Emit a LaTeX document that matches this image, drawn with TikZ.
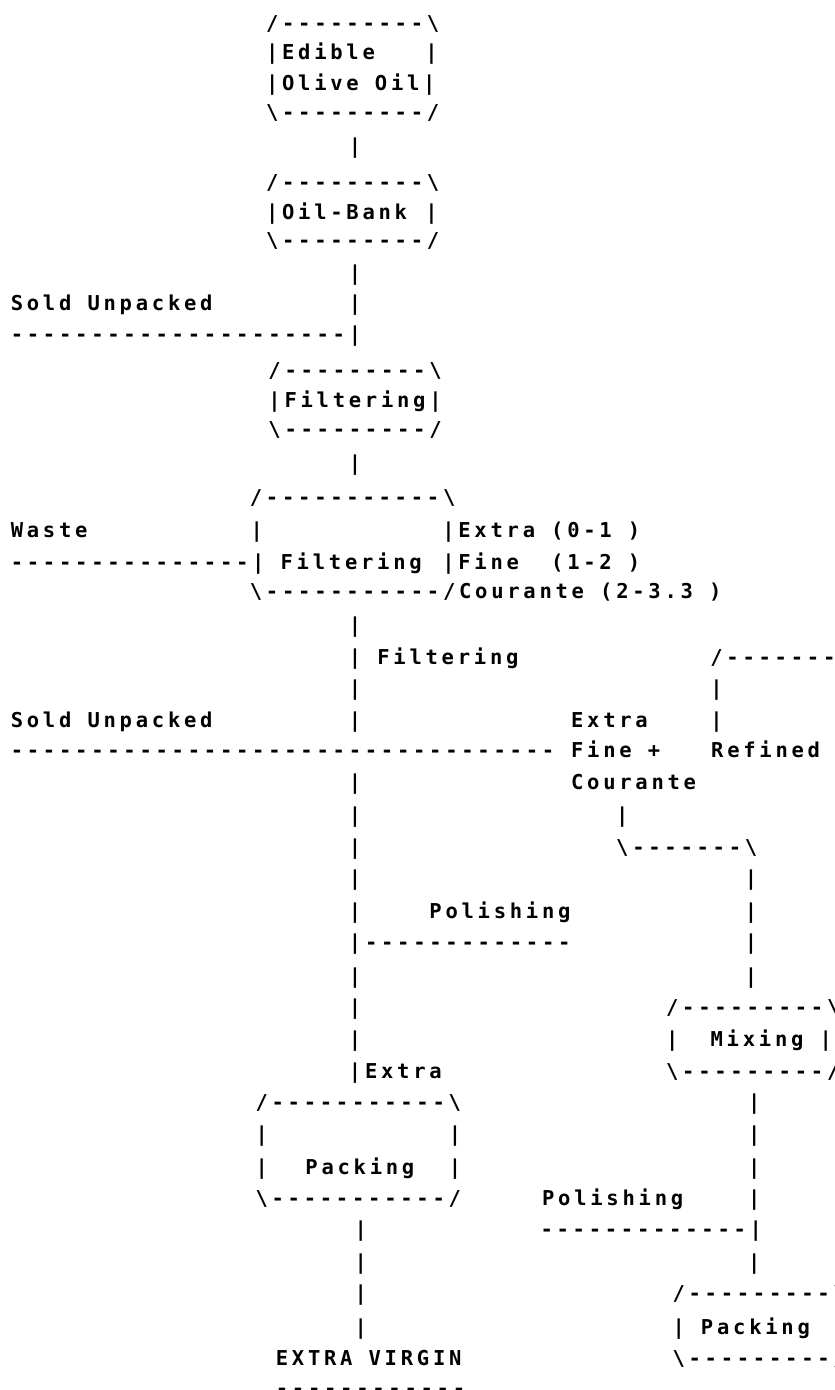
\documentclass[tikz,border=0pt]{standalone}
\usepackage{fontspec}
\setmonofont{DejaVu Sans Mono}[LetterSpace=18.3]

% backslash glyph for the box corners
\newcommand\bsl{\char92\relax}
% bold mono, one space = one character cell
\newcommand\asciistyle{\ttfamily\bfseries\fontsize{20.5}{20.5}\selectfont
  \spaceskip=16.1pt\relax\xspaceskip=16.1pt\relax}

\tikzset{
  ascii/.style={anchor=base west, inner sep=0pt, outer sep=0pt, yshift=-7pt,
    font={\asciistyle}},
}

\begin{document}
\begin{tikzpicture}[x=16.1pt,y=-1pt]
  \useasboundingbox[fill=white] (-0.6727,0) rectangle (51.19,1390);
  \clip (-0.6727,0) rectangle (51.19,1390);

  % edible olive oil and oil bank
  \node[ascii] (edible-t)  at (15.85,23)  {/---------\bsl};
  \node[ascii] (edible-a)  at (15.85,52)  {|Edible};
  \node[ascii] (edible-ar) at (25.75,52)  {|};
  \node[ascii] (edible-b)  at (15.85,83)  {|Olive Oil|};
  \node[ascii] (edible-c)  at (15.85,112) {\bsl---------/};
  \node[ascii] (bank-t)    at (15.85,182) {/---------\bsl};
  \node[ascii] (bank)      at (15.85,212) {|Oil-Bank};
  \node[ascii] (bank-r)    at (25.75,212) {|};
  \node[ascii] (bank-b)    at (15.85,240) {\bsl---------/};

  % main line
  \foreach \y [count=\i] in {146,273,303,463,625,688,720,782,815,847,878,911,976,1007,1039}
    \node[ascii] (main-bar\i) at (21,\y) {|};
  \node[ascii] (sold-a)      at (0,303) {Sold Unpacked};
  \node[ascii] (sold-a-line) at (0,334) {---------------------|};

  % first filtering
  \node[ascii] (filt-a-t) at (16,370) {/---------\bsl};
  \node[ascii] (filt-a)   at (16,400) {|Filtering|};
  \node[ascii] (filt-a-b) at (16,429) {\bsl---------/};

  % second filtering with grades
  \node[ascii] (filt-b-t)   at (14.85,497) {/-----------\bsl};
  \node[ascii] (waste)      at (0,530)     {Waste};
  \node[ascii] (filt-b-l)   at (14.9,530)  {|};
  \node[ascii] (grade-a)    at (26.8,530)  {|Extra (0-1 )};
  \node[ascii] (waste-line) at (0,562)     {---------------| Filtering};
  \node[ascii] (grade-b)    at (26.8,562)  {|Fine\ \ (1-2 )};
  \node[ascii] (filt-b-b)   at (14.85,591) {\bsl-----------/Courante (2-3.3 )};

  \node[ascii] (filt-c)      at (21,657) {| Filtering};
  \node[ascii] (sold-b)      at (0,720)  {Sold Unpacked};
  \node[ascii] (sold-b-line) at (0,750)  {----------------------------------};

  % refined branch
  \node[ascii] (ref-t) at (43.45,657) {/--------};
  \foreach \y [count=\i] in {688,720}
    \node[ascii] (ref-bar\i) at (43.45,\y) {|};
  \node[ascii] (refined)  at (43.5,750) {Refined};
  \node[ascii] (in-extra) at (34.8,720) {Extra};
  \node[ascii] (in-fine)  at (34.8,750) {Fine +};
  \node[ascii] (in-cour)  at (34.8,782) {Courante};
  \node[ascii] (cour-bar) at (37.6,815) {|};
  \node[ascii] (turn)     at (37.6,847) {\bsl-------\bsl};
  \foreach \y [count=\i] in {878,911,942,976}
    \node[ascii] (mix-bar\i) at (45.6,\y) {|};

  % polishing and extra virgin packing
  \node[ascii] (pol-a)      at (26,911)  {Polishing};
  \node[ascii] (pol-a-line) at (21,942)  {|-------------};
  \node[ascii] (extra)      at (21,1071) {|Extra};
  \node[ascii] (pack-a-t)   at (15.2,1102) {/-----------\bsl};
  \node[ascii] (pack-a-l)   at (15.2,1134) {|};
  \node[ascii] (pack-a-r)   at (27.2,1134) {|};
  \node[ascii] (pack-a-l2)  at (15.2,1167) {|};
  \node[ascii] (pack-a)     at (18.3,1167) {Packing};
  \node[ascii] (pack-a-r2)  at (27.2,1167) {|};
  \node[ascii] (pack-a-b)   at (15.2,1198) {\bsl-----------/};
  \foreach \y [count=\i] in {1229,1262,1293,1327}
    \node[ascii] (pack-bar\i) at (21.35,\y) {|};
  \node[ascii] (virgin)      at (16.46,1358) {EXTRA VIRGIN};
  \node[ascii] (virgin-line) at (16.46,1388) {------------};

  % mixing and second packing
  \node[ascii] (mix-t) at (40.7,1007) {/---------\bsl};
  \node[ascii] (mix)   at (40.7,1039) {|\ \ Mixing |};
  \node[ascii] (mix-b) at (40.7,1071) {\bsl---------/};
  \foreach \y [count=\i] in {1102,1134,1167,1198,1262}
    \node[ascii] (blend-bar\i) at (45.8,\y) {|};
  \node[ascii] (pol-b)      at (33,1198)   {Polishing};
  \node[ascii] (pol-b-line) at (32.9,1229) {-------------|};
  \node[ascii] (pack-b-t)   at (41.1,1293) {/---------\bsl};
  \node[ascii] (pack-b)     at (41.1,1327) {| Packing};
  \node[ascii] (pack-b-b)   at (41.1,1358) {\bsl---------/};
\end{tikzpicture}
\end{document}
